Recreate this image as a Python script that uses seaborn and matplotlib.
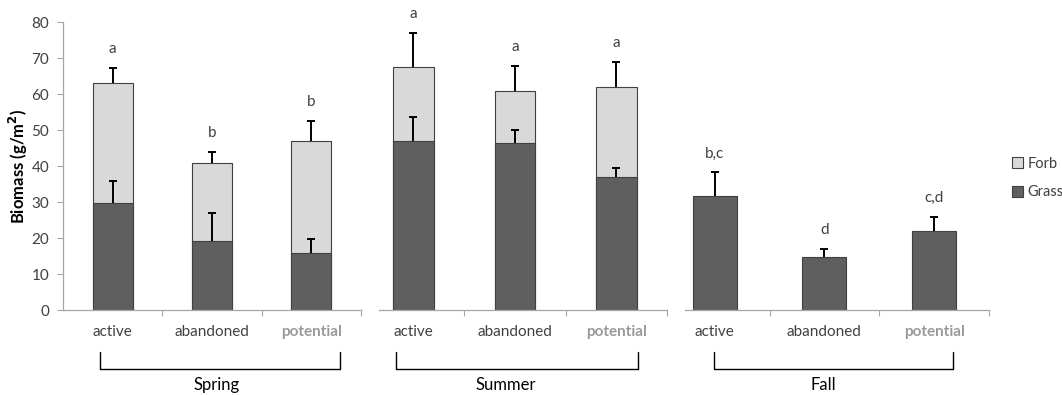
import numpy as np
import pandas as pd
import matplotlib
matplotlib.use("Agg")
import matplotlib.pyplot as plt
import matplotlib.transforms as mtransforms
from matplotlib.patches import Patch
import seaborn as sns

# ---- data (g/m^2) ----
seasons = ["Spring", "Summer", "Fall"]
sites = ["active", "abandoned", "potential"]
grass = [[29.8, 19.2, 15.7], [47.0, 46.4, 37.0], [31.7, 14.8, 21.9]]
total = [[63.0, 40.9, 47.0], [67.6, 60.7, 61.9], [31.7, 14.8, 21.9]]
grass_err = [[6.0, 7.7, 4.1], [6.7, 3.5, 2.4], [6.5, 2.2, 4.0]]
total_err = [[4.2, 3.0, 5.4], [9.4, 7.2, 7.1], [6.5, 2.2, 4.0]]
letters = [["a", "b", "b"], ["a", "a", "a"], ["b,c", "d", "c,d"]]
has_forb = [True, True, False]

FORB_C = "#d9d9d9"
GRASS_C = "#5f5f5f"
EDGE_C = "#404040"
AXIS_C = "#a6a6a6"
TEXT_C = "#404040"

sns.set_theme(style="white")
plt.rcParams["font.family"] = ["Lato", "DejaVu Sans"]

fig = plt.figure(figsize=(10.62, 3.95), dpi=100)
W, H = 1062, 395
y0, y1 = 310, 22  # pixel rows of 0 and 80

# panel layout: (left px, right px, visible xlim start, bracket x0, x1, label x)
layout = [
    (63, 361, -0.50, -0.13, 2.29, 1.05),
    (379, 667, -0.34, -0.17, 2.21, 0.91),
    (685, 989, -0.27, -0.01, 2.17, 0.99),
]


def up_errbar(ax, xs, ys, errs):
    # one-sided (upper) error bars, lower cap hidden
    eb = ax.errorbar(xs, ys, yerr=[np.zeros(len(errs)), errs], fmt="none",
                     ecolor="black", elinewidth=1.4, capsize=2.8, capthick=1.4, zorder=5)
    eb[1][0].set_visible(False)


for i, season in enumerate(seasons):
    left, right, xstart, bx0, bx1, lx = layout[i]
    ax = fig.add_axes([left / W, (H - y0) / H, (right - left) / W, (y0 - y1) / H])
    df = pd.DataFrame({"site": sites, "grass": grass[i], "total": total[i]})

    if has_forb[i]:
        sns.barplot(data=df, x="site", y="total", color=FORB_C, width=0.4,
                    edgecolor=EDGE_C, linewidth=0.8, saturation=1, ax=ax)
    sns.barplot(data=df, x="site", y="grass", color=GRASS_C, width=0.4,
                edgecolor=EDGE_C, linewidth=0.8, saturation=1, ax=ax)

    xs = np.arange(len(sites))
    t = np.array(total[i])
    up_errbar(ax, xs, grass[i], grass_err[i])
    if has_forb[i]:
        up_errbar(ax, xs, total[i], total_err[i])

    top = t + np.array(total_err[i])
    for x, yv, lab in zip(xs, top, letters[i]):
        ax.text(x, yv + 3.3, lab, ha="center", va="bottom", fontsize=11, color=TEXT_C)

    ax.set_xlim(xstart, 2.5)
    ax.set_ylim(0, 80)
    ax.set_xlabel("")
    ax.set_ylabel("")

    ax.set_xticks(xs)
    ax.set_xticklabels(sites)
    ax.set_xticks([0.5, 1.5, 2.5], minor=True)
    ax.tick_params(axis="x", which="major", length=0, pad=11, labelsize=11, labelcolor=TEXT_C)
    ax.tick_params(axis="x", which="minor", length=4, width=0.8, color=AXIS_C, direction="out")
    ax.xaxis.set_tick_params(bottom=True, which="both")
    lbl = ax.get_xticklabels()[2]
    lbl.set_fontweight("bold")
    lbl.set_color("#9a9a9a")

    for s in ["top", "right"]:
        ax.spines[s].set_visible(False)
    ax.spines["bottom"].set_color(AXIS_C)
    ax.spines["bottom"].set_linewidth(0.9)
    if i == 0:
        ax.spines["left"].set_color(AXIS_C)
        ax.spines["left"].set_linewidth(0.9)
        ax.set_yticks(range(0, 81, 10))
        ax.tick_params(axis="y", left=True, length=4, width=0.8, color=AXIS_C,
                       labelsize=11, labelcolor=TEXT_C, pad=6)
    else:
        ax.spines["left"].set_visible(False)
        ax.set_yticks([])

    # season bracket below the category labels
    trans = mtransforms.blended_transform_factory(ax.transData, ax.transAxes)
    ax.plot([bx0, bx0, bx1, bx1], [-0.146, -0.205, -0.205, -0.146], color="black",
            lw=1.0, transform=trans, clip_on=False)
    ax.text(lx, -0.262, season, transform=trans, ha="center", va="center",
            fontsize=12, color="black")

fig.text(18 / W, (H - 166) / H, "Biomass (g/m$^\\mathbf{2}$)", rotation=90,
         ha="center", va="center", fontsize=12, fontweight="bold", color="black")

handles = [Patch(facecolor=FORB_C, edgecolor=EDGE_C, linewidth=0.8, label="Forb"),
           Patch(facecolor=GRASS_C, edgecolor=EDGE_C, linewidth=0.8, label="Grass")]
fig.legend(handles=handles, loc="center left", bbox_to_anchor=(1012 / W, (H - 178) / H),
           frameon=False, fontsize=10.5, handlelength=0.75, handleheight=0.75,
           handletextpad=0.3, labelspacing=1.0, labelcolor=TEXT_C, borderpad=0,
           borderaxespad=0)

fig.savefig("out.png", dpi=100)
